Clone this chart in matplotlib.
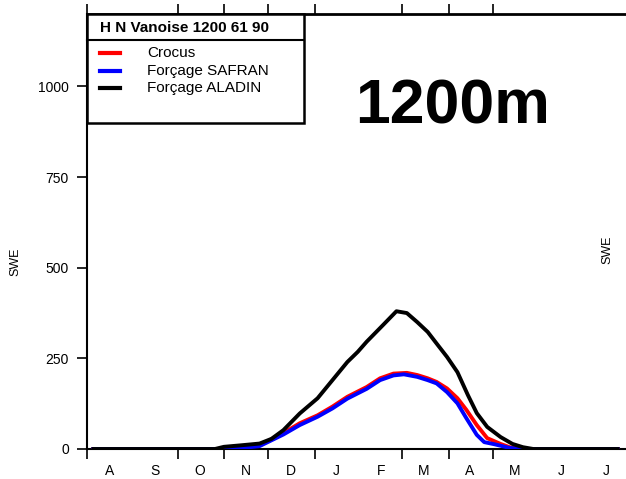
import numpy as np
import matplotlib.pyplot as plt
from matplotlib.patches import Rectangle

plt.rcParams['font.family'] = ['Liberation Sans', 'DejaVu Sans']

# days counted from 1 August
tick_days = [0, 61, 92, 122, 153, 212, 243, 273]
month_mid = [15.5, 45.5, 76, 106.5, 137, 167.5, 197.5, 226.5, 257.5, 287.5, 318.5, 349]
month_labels = ["A", "S", "O", "N", "D", "J", "F", "M", "A", "M", "J", "J"]

aladin_days = [3, 86, 92, 103, 116, 124, 132, 143, 155, 165, 175, 182, 188, 199,
               208, 215, 222, 229, 235, 242, 249, 256, 262, 269, 278, 286, 293, 300, 358]
aladin_swe = [0, 0, 6, 10, 15, 28, 52, 98, 140, 190, 240, 268, 296, 342,
              380, 375, 350, 323, 291, 254, 212, 149, 99, 61, 33, 14, 5, 0, 0]

crocus_days = [3, 90, 100, 116, 124, 132, 143, 155, 165, 175, 188, 197, 206, 215,
               222, 229, 235, 242, 249, 255, 262, 269, 278, 284, 293, 358]
crocus_swe = [0, 0, 3, 10, 27, 44, 71, 93, 117, 144, 171, 195, 208, 210,
              204, 195, 185, 167, 140, 108, 66, 30, 14, 5, 0, 0]

safran_days = [3, 93, 103, 116, 124, 132, 143, 155, 165, 175, 188, 197, 206, 213,
               222, 229, 235, 242, 249, 255, 262, 267, 274, 284, 293, 358]
safran_swe = [0, 0, 2, 8, 24, 40, 66, 89, 112, 139, 166, 190, 203, 206,
              199, 190, 181, 157, 126, 85, 39, 19, 13, 3, 0, 0]

W, H = 626, 479
fig = plt.figure(figsize=(W / 100, H / 100), dpi=100)
ax = fig.add_axes([87 / W, 30 / H, (630 - 87) / W, (449 - 14) / H])

ax.plot(crocus_days, crocus_swe, color="red", lw=2.8, solid_capstyle="butt", zorder=3)
ax.plot(safran_days, safran_swe, color="blue", lw=2.8, solid_capstyle="butt", zorder=4)
ax.plot(aladin_days, aladin_swe, color="black", lw=2.8, solid_capstyle="butt", zorder=5)

ax.set_xlim(0, 365)
ax.set_ylim(0, 1200)
ax.set_yticks([0, 250, 500, 750, 1000])
ax.set_xticks(tick_days)
ax.set_xticklabels([])
ax.set_xticks(month_mid, minor=True)
ax.set_xticklabels(month_labels, minor=True)
ax.tick_params(axis="x", which="major", direction="out", length=7, width=1.2,
               top=True, bottom=True)
ax.tick_params(axis="x", which="minor", length=0, pad=11, labelsize=10)
ax.tick_params(axis="y", direction="out", length=7, width=1.2, labelsize=10, pad=6)
ax.spines["right"].set_visible(False)
for s in ["left", "bottom"]:
    ax.spines[s].set_linewidth(1.5)
ax.spines["top"].set_linewidth(2)

fig.text(15 / W, 1 - 262 / H, "SWE", rotation=90, ha="center", va="center", fontsize=9)
fig.text(607 / W, 1 - 250 / H, "SWE", rotation=90, ha="center", va="center", fontsize=9)

# legend box
box = Rectangle((87 / W, 1 - 123 / H), (304 - 87) / W, (123 - 14) / H,
                transform=fig.transFigure, fill=True, facecolor="white",
                edgecolor="black", lw=1.8, zorder=10)
fig.add_artist(box)
fig.add_artist(plt.Line2D([87 / W, 304 / W], [1 - 40 / H, 1 - 40 / H],
                          transform=fig.transFigure, color="black", lw=1.5, zorder=11))
fig.text(100 / W, 1 - 28 / H, "H N Vanoise 1200 61 90", fontsize=11, fontweight="bold",
         va="center", zorder=12)
legend_items = [("Crocus", "red", 53), ("Forçage SAFRAN", "blue", 71),
                ("Forçage ALADIN", "black", 88)]
for label, col, yy in legend_items:
    fig.add_artist(plt.Line2D([100 / W, 120 / W], [1 - yy / H, 1 - yy / H],
                              transform=fig.transFigure, color=col, lw=3, zorder=11))
    fig.text(147 / W, 1 - yy / H, label, fontsize=11, va="center", zorder=12)

fig.text(453 / W, 1 - 107 / H, "1200m", fontsize=45, fontweight="bold",
         ha="center", va="center")

fig.savefig("out.png", dpi=100)
